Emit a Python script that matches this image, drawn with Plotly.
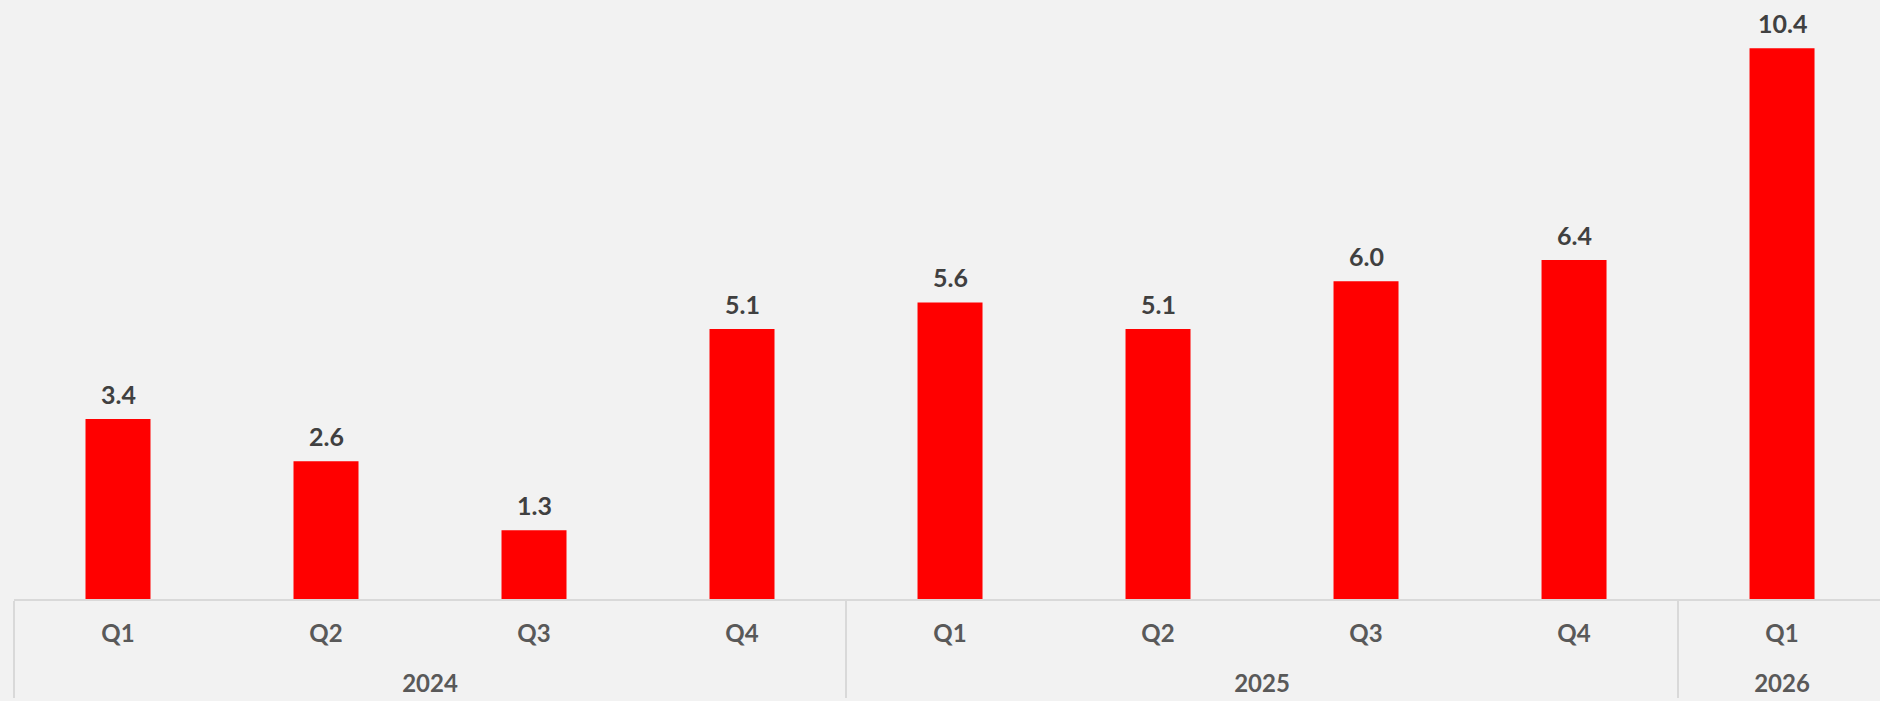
import plotly.graph_objects as go

years = ["2024", "2024", "2024", "2024", "2025", "2025", "2025", "2025", "2026"]
quarters = ["Q1", "Q2", "Q3", "Q4", "Q1", "Q2", "Q3", "Q4", "Q1"]
values = [3.4, 2.6, 1.3, 5.1, 5.6, 5.1, 6.0, 6.4, 10.4]
value_labels = [f"{v:.1f}" for v in values]

BG = "#f2f2f2"
BAR = "#ff0000"
FONT = "Lato"

# an empty second line under each quarter label leaves room above the year row
quarter_ticks = [f"{q}<br>&nbsp;" for q in quarters]

fig = go.Figure(
    go.Bar(
        x=[years, quarter_ticks],
        y=values,
        marker=dict(color=BAR, line=dict(width=0)),
        hoverinfo="skip",
    )
)

# value labels above each bar
for i, (v, lab) in enumerate(zip(values, value_labels)):
    fig.add_annotation(
        x=i,
        y=v,
        xref="x",
        yref="y",
        text=f"<b>{lab}</b>",
        showarrow=False,
        yanchor="bottom",
        yshift=8,
        font=dict(family=FONT, size=25, color="#404040"),
    )

fig.update_layout(
    width=1880,
    height=701,
    paper_bgcolor=BG,
    plot_bgcolor=BG,
    margin=dict(l=14, r=0, t=0, b=102),
    bargap=0.6875,
    showlegend=False,
    font=dict(family=FONT),
)

fig.update_xaxes(
    type="multicategory",
    range=[-0.5, 8.471],
    showline=True,
    linecolor="#d9d9d9",
    linewidth=2,
    showgrid=False,
    ticks="",
    showdividers=True,
    dividercolor="#d9d9d9",
    dividerwidth=2,
    ticklabelstandoff=12,
    tickfont=dict(family=FONT, size=24, color="#595959", weight="bold"),
)

fig.update_yaxes(
    range=[0, 11.31],
    visible=False,
    showgrid=False,
    zeroline=False,
)

fig.write_html("out.html")
